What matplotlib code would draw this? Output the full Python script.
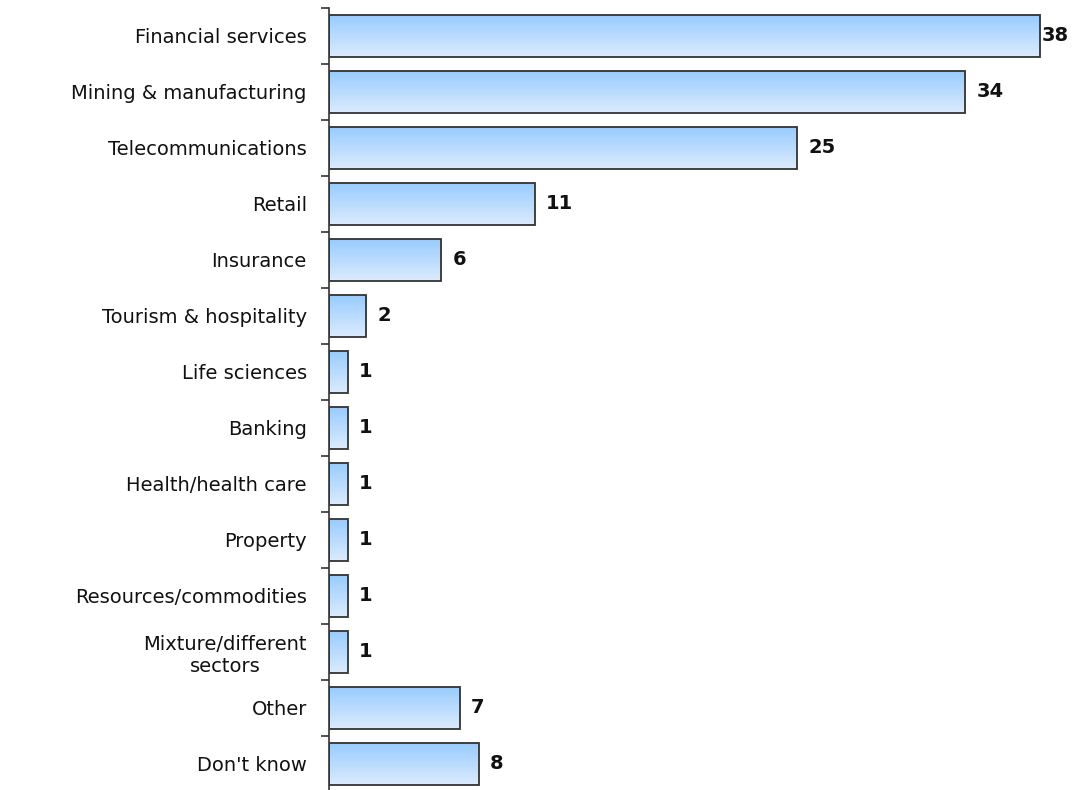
import numpy as np
import matplotlib
matplotlib.use("Agg")
import matplotlib.pyplot as plt
from matplotlib.colors import LinearSegmentedColormap

categories = [
    "Financial services", "Mining & manufacturing", "Telecommunications",
    "Retail", "Insurance", "Tourism & hospitality", "Life sciences",
    "Banking", "Health/health care", "Property", "Resources/commodities",
    "Mixture/different\nsectors", "Other", "Don't know",
]
values = [38, 34, 25, 11, 6, 2, 1, 1, 1, 1, 1, 1, 7, 8]

fig = plt.figure(figsize=(10.88, 7.9), dpi=100)
ax = fig.add_axes([0.3024, -0.0025, 0.6976, 0.9924])

n = len(categories)
pos = np.arange(n)
bar_h = 0.74
x_max = 40.56

bars = ax.barh(pos, values, height=bar_h, color="none",
               edgecolor="#333333", linewidth=1.3, zorder=3)

# vertical gradient fill: light at the bottom, deeper blue on top
cmap = LinearSegmentedColormap.from_list("barfill", ["#99CCFF", "#DCEBFD"])
grad = np.linspace(0, 1, 64).reshape(-1, 1)
for b in bars:
    x0, y0 = b.get_x(), b.get_y()
    w, h = b.get_width(), b.get_height()
    ax.imshow(grad, cmap=cmap, aspect="auto", interpolation="bicubic",
              extent=(x0, x0 + w, y0 + h, y0), zorder=2)

# value labels just past the bar end, kept inside the right margin
label_gap = 0.6
label_limit = x_max - 1.0
for p, v in zip(pos, values):
    if v + label_gap + 1.6 > label_limit:
        x, ha = label_limit, "right"
    else:
        x, ha = v + label_gap, "left"
    ax.text(x, p, str(v), va="center", ha=ha,
            fontsize=14, fontweight="bold", color="#111111", zorder=4)

ax.set_xlim(0, x_max)
ax.set_ylim(n - 0.5, -0.5)

ax.set_yticks(pos)
ax.set_yticklabels(categories, fontsize=14, multialignment="center")
ax.tick_params(axis="y", which="major", length=0, pad=16, colors="#111111")
ax.set_yticks(np.arange(n + 1) - 0.5, minor=True)
ax.tick_params(axis="y", which="minor", length=6, width=1.2, direction="out",
               color="#333333")
ax.set_xticks([])

for s in ("top", "right", "bottom"):
    ax.spines[s].set_visible(False)
ax.spines["left"].set_linewidth(1.2)
ax.spines["left"].set_color("#333333")

fig.savefig("out.png", dpi=100)
